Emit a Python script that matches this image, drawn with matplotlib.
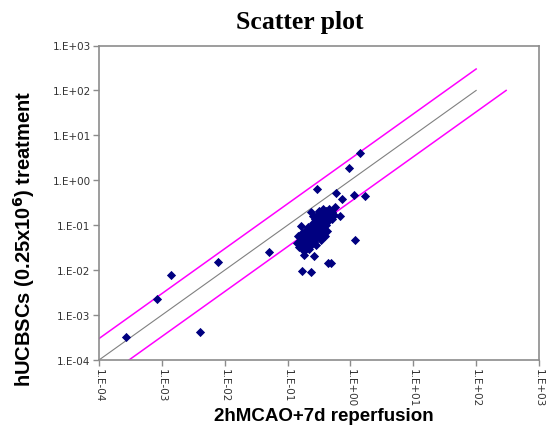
import numpy as np
import matplotlib
matplotlib.use("Agg")
from matplotlib import pyplot as plt
from matplotlib.ticker import FixedLocator, FuncFormatter, NullLocator

# isolated points (x = 2hMCAO+7d, y = hUCBSCs treatment)
outer_x = [2.7e-4, 4.0e-3, 8.5e-4, 1.4e-3, 7.9e-3, 5.0e-2, 1.43, 0.96, 0.29, 0.58,
           0.74, 1.15, 1.7, 1.2, 0.57]
outer_y = [3.2e-4, 4.3e-4, 2.3e-3, 7.6e-3, 1.5e-2, 2.5e-2, 4.1, 1.9, 0.64, 0.52,
           0.39, 0.48, 0.45, 0.046, 0.25]

# dense cluster around 0.1 - 0.5
cluster_x = [0.150, 0.161, 0.173, 0.139, 0.167, 0.186, 0.200, 0.180, 0.200, 0.216,
             0.232, 0.208, 0.232, 0.249, 0.268, 0.224, 0.249, 0.268, 0.288, 0.240,
             0.268, 0.288, 0.310, 0.333, 0.258, 0.288, 0.310, 0.333, 0.359, 0.278,
             0.310, 0.333, 0.359, 0.386, 0.299, 0.333, 0.359, 0.386, 0.415, 0.321,
             0.359, 0.386, 0.415, 0.446, 0.372, 0.415, 0.446, 0.480, 0.516, 0.462,
             0.516, 0.555, 0.186, 0.208, 0.167, 0.430, 0.400, 0.346, 0.288, 0.180,
             0.216, 0.145, 0.232, 0.258, 0.690, 0.180, 0.268, 0.167, 0.240, 0.446,
             0.490, 0.161]
cluster_y = [0.0333, 0.0369, 0.0300, 0.0409, 0.0476, 0.0409, 0.0350, 0.0555, 0.0501, 0.0430,
             0.0369, 0.0648, 0.0585, 0.0501, 0.0430, 0.0794, 0.0717, 0.0615, 0.0528, 0.0927,
             0.0880, 0.0755, 0.0648, 0.0555, 0.114, 0.108, 0.0927, 0.0794, 0.0682, 0.140,
             0.133, 0.114, 0.0975, 0.0836, 0.171, 0.163, 0.140, 0.120, 0.103, 0.210,
             0.190, 0.171, 0.147, 0.126, 0.233, 0.210, 0.180, 0.155, 0.140, 0.233,
             0.200, 0.171, 0.0755, 0.0927, 0.0682, 0.0755, 0.0585, 0.0476, 0.0369, 0.0271,
             0.0300, 0.0585, 0.200, 0.163, 0.163, 0.0221, 0.0210, 0.00975, 0.00927, 0.0147,
             0.0147, 0.0975]

# identity line and 3-fold limits
line_x = [1e-4, 1e2]
upper_x = [1e-4, 1e2]
lower_x = [3e-4, 3e2]
fold = 3.0

decades = [1e-4, 1e-3, 1e-2, 1e-1, 1e0, 1e1, 1e2, 1e3]


def sci_label(v, pos):
    return "1.E{:+03d}".format(int(round(np.log10(v))))


fig = plt.figure(figsize=(5.47, 4.31), dpi=100)
ax = fig.add_axes([99 / 547, 1 - 361 / 431, 440 / 547, 314.5 / 431])

ax.plot(line_x, line_x, color="#808080", lw=0.8)
ax.plot(upper_x, [v * fold for v in upper_x], color="#ff00ff", lw=1.1)
ax.plot(lower_x, [v / fold for v in lower_x], color="#ff00ff", lw=1.1)

ax.scatter(cluster_x + outer_x, cluster_y + outer_y, marker="D", s=22,
           color="#000080", linewidths=0, zorder=3)

ax.set_xscale("log")
ax.set_yscale("log")
ax.set_xlim(1e-4, 1e3)
ax.set_ylim(1e-4, 1e3)
for axis in (ax.xaxis, ax.yaxis):
    axis.set_major_locator(FixedLocator(decades))
    axis.set_minor_locator(NullLocator())
    axis.set_major_formatter(FuncFormatter(sci_label))

for sp in ax.spines.values():
    sp.set_color("#8c8c8c")
    sp.set_linewidth(1.2)
ax.tick_params(axis="both", direction="out", length=4, width=1, color="#8c8c8c",
               labelsize=7.5, labelcolor="#333333", pad=2)
for lab in ax.get_xticklabels():
    lab.set_rotation(270)

fig.text(300 / 547, 1 - 22 / 431, "Scatter plot", family="Liberation Serif",
         fontweight="bold", fontsize=18.5, ha="center", va="center")
fig.text(324 / 547, 1 - 417 / 431, "2hMCAO+7d reperfusion", family="Liberation Sans",
         fontweight="bold", fontsize=13.5, ha="center", va="center")
fig.text(24 / 547, 1 - 239 / 431, r"hUCBSCs (0.25x10$^{\mathbf{6}}$) treatment",
         family="Liberation Sans", fontweight="bold", fontsize=14.5, rotation=90,
         ha="center", va="center")

fig.savefig("out.png", dpi=100)
